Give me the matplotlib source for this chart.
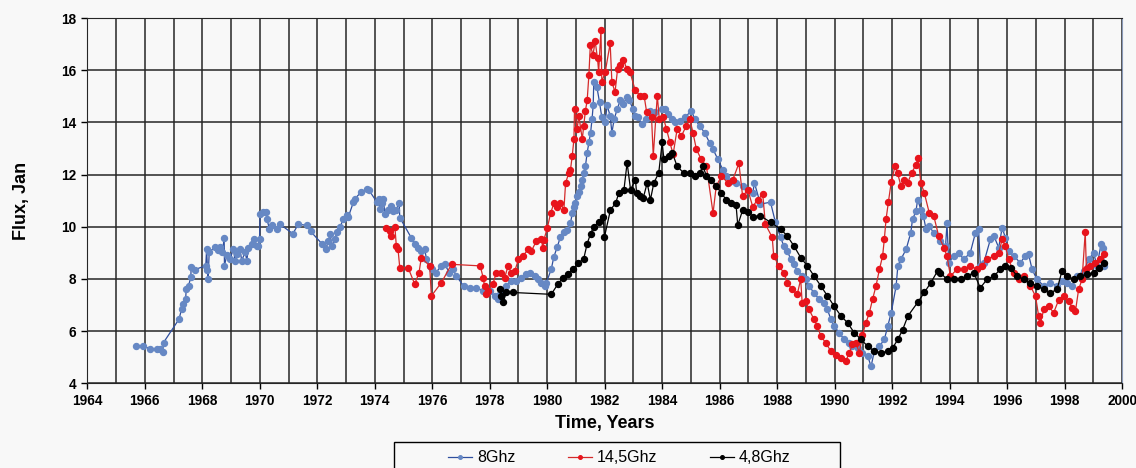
import matplotlib.pyplot as plt
import matplotlib.patches as patches
from matplotlib.ticker import MultipleLocator

plt.rcParams['font.family'] = ['Liberation Sans', 'DejaVu Sans']

# 8 GHz
year_8 = [1965.68, 1965.95, 1966.18, 1966.41, 1966.53, 1966.62, 1966.65, 1967.19, 1967.28, 1967.34,
          1967.42, 1967.44, 1967.52, 1967.60, 1967.61, 1967.75, 1968.12, 1968.15, 1968.18, 1968.20,
          1968.24, 1968.44, 1968.55, 1968.62, 1968.70, 1968.76, 1968.77, 1968.85, 1968.97, 1969.08,
          1969.14, 1969.22, 1969.31, 1969.37, 1969.49, 1969.55, 1969.60, 1969.72, 1969.80, 1969.90,
          1969.95, 1969.99, 1970.01, 1970.12, 1970.20, 1970.25, 1970.33, 1970.41, 1970.59, 1970.70,
          1971.15, 1971.34, 1971.63, 1971.77, 1972.16, 1972.30, 1972.39, 1972.45, 1972.50, 1972.62,
          1972.68, 1972.79, 1972.91, 1973.03, 1973.08, 1973.26, 1973.32, 1973.52, 1973.72, 1973.80,
          1974.07, 1974.13, 1974.18, 1974.25, 1974.30, 1974.35, 1974.45, 1974.55, 1974.62, 1974.75,
          1974.85, 1974.87, 1975.27, 1975.39, 1975.50, 1975.62, 1975.74, 1975.80, 1975.91, 1976.00,
          1976.12, 1976.32, 1976.43, 1976.60, 1976.72, 1976.84, 1977.09, 1977.30, 1977.53, 1977.77,
          1977.88, 1978.00, 1978.17, 1978.29, 1978.35, 1978.58, 1978.75, 1978.92, 1979.10, 1979.27,
          1979.40, 1979.56, 1979.68, 1979.79, 1979.91, 1979.97, 1980.14, 1980.23, 1980.35, 1980.46,
          1980.58, 1980.70, 1980.81, 1980.87, 1980.93, 1980.98, 1981.04, 1981.10, 1981.16, 1981.22,
          1981.27, 1981.33, 1981.39, 1981.45, 1981.51, 1981.56, 1981.60, 1981.62, 1981.73, 1981.82,
          1981.90, 1982.02, 1982.08, 1982.19, 1982.25, 1982.33, 1982.44, 1982.54, 1982.65, 1982.77,
          1982.86, 1982.98, 1983.06, 1983.17, 1983.29, 1983.44, 1983.58, 1983.75, 1984.00, 1984.10,
          1984.20, 1984.33, 1984.44, 1984.61, 1984.79, 1985.02, 1985.13, 1985.30, 1985.48, 1985.65,
          1985.77, 1985.94, 1986.11, 1986.23, 1986.40, 1986.57, 1986.80, 1986.98, 1987.15, 1987.21,
          1987.42, 1987.77, 1987.94, 1988.12, 1988.23, 1988.35, 1988.47, 1988.58, 1988.70, 1988.87,
          1988.99, 1989.11, 1989.28, 1989.46, 1989.63, 1989.75, 1989.87, 1989.98, 1990.16, 1990.33,
          1990.51, 1990.62, 1990.80, 1990.97, 1991.15, 1991.27, 1991.38, 1991.56, 1991.73, 1991.85,
          1991.97, 1992.14, 1992.20, 1992.31, 1992.49, 1992.65, 1992.71, 1992.83, 1992.89, 1993.00,
          1993.09, 1993.18, 1993.28, 1993.45, 1993.68, 1993.86, 1993.91, 1993.97, 1994.14, 1994.32,
          1994.49, 1994.72, 1994.90, 1995.01, 1995.07, 1995.19, 1995.42, 1995.54, 1995.71, 1995.83,
          1995.94, 1996.06, 1996.23, 1996.46, 1996.64, 1996.75, 1996.87, 1997.04, 1997.28, 1997.51,
          1997.74, 1997.91, 1998.09, 1998.26, 1998.43, 1998.67, 1998.84, 1999.01, 1999.13, 1999.27,
          1999.34, 1999.38]
flux_8 = [5.44, 5.44, 5.31, 5.31, 5.33, 5.20, 5.56, 6.46, 6.85, 7.04,
          7.23, 7.62, 7.74, 8.06, 8.44, 8.36, 8.51, 9.15, 8.36, 8.00,
          9.03, 9.22, 9.10, 9.22, 9.03, 9.56, 8.51, 8.90, 8.77, 9.15,
          8.70, 8.95, 9.15, 8.70, 9.03, 8.70, 9.20, 9.35, 9.54, 9.28,
          9.28, 9.54, 10.50, 10.56, 10.56, 10.30, 9.92, 10.05, 9.92, 10.10,
          9.73, 10.10, 10.05, 9.82, 9.35, 9.15, 9.47, 9.73, 9.28, 9.54,
          9.80, 9.99, 10.30, 10.44, 10.38, 10.95, 11.08, 11.33, 11.44, 11.40,
          10.95, 11.08, 10.69, 10.92, 11.08, 10.47, 10.66, 10.79, 10.60, 10.66,
          10.92, 10.35, 9.58, 9.32, 9.20, 9.07, 9.13, 8.75, 8.50, 8.37,
          8.24, 8.50, 8.56, 8.24, 8.37, 8.11, 7.73, 7.67, 7.67, 7.54,
          7.48, 7.54, 7.35, 7.22, 7.41, 7.73, 7.92, 7.92, 8.05, 8.18,
          8.24, 8.11, 7.99, 7.86, 7.73, 7.86, 8.37, 8.84, 9.23, 9.61,
          9.81, 9.87, 10.13, 10.52, 10.77, 10.90, 11.16, 11.35, 11.55, 11.81,
          12.06, 12.32, 12.84, 13.23, 13.61, 14.13, 14.65, 15.55, 15.35, 14.77,
          14.19, 14.00, 14.65, 14.26, 13.60, 14.13, 14.52, 14.84, 14.71, 14.97,
          14.84, 14.52, 14.26, 14.19, 13.94, 14.13, 14.45, 14.39, 14.52, 14.52,
          14.32, 14.13, 14.00, 14.06, 14.19, 14.45, 14.13, 13.87, 13.60, 13.22,
          12.97, 12.58, 12.19, 11.94, 11.74, 11.68, 11.55, 11.42, 11.29, 11.68,
          10.87, 10.94, 10.17, 9.59, 9.27, 9.08, 8.76, 8.56, 8.31, 8.12,
          7.99, 7.73, 7.47, 7.22, 7.09, 6.83, 6.45, 6.19, 5.94, 5.68,
          5.55, 5.42, 5.36, 5.17, 5.04, 4.65, 5.23, 5.42, 5.68, 6.19,
          6.71, 7.73, 8.50, 8.76, 9.14, 9.77, 10.28, 10.60, 11.04, 10.66,
          10.41, 9.90, 10.03, 9.77, 9.45, 9.26, 10.13, 8.62, 8.88, 9.00,
          8.75, 9.00, 9.77, 9.90, 8.50, 8.62, 9.52, 9.65, 9.20, 9.97,
          9.58, 9.07, 8.88, 8.62, 8.88, 8.94, 8.37, 7.98, 7.73, 7.86,
          7.73, 7.92, 7.86, 7.73, 8.11, 8.30, 8.75, 9.00, 8.50, 9.33,
          9.20, 8.50]

# 14,5 GHz
year_145 = [1974.38, 1974.52, 1974.58, 1974.70, 1974.75, 1974.81, 1974.87, 1975.16, 1975.39, 1975.54,
            1975.62, 1975.91, 1975.97, 1976.32, 1976.67, 1977.67, 1977.77, 1977.82, 1977.88, 1977.94,
            1978.11, 1978.23, 1978.40, 1978.52, 1978.64, 1978.75, 1978.87, 1979.00, 1979.16, 1979.33,
            1979.45, 1979.62, 1979.79, 1979.85, 1979.88, 1980.00, 1980.12, 1980.23, 1980.35, 1980.46,
            1980.58, 1980.64, 1980.75, 1980.81, 1980.87, 1980.93, 1980.95, 1981.04, 1981.10, 1981.22,
            1981.27, 1981.33, 1981.39, 1981.45, 1981.50, 1981.59, 1981.67, 1981.75, 1981.79, 1981.87,
            1981.90, 1982.02, 1982.19, 1982.25, 1982.36, 1982.45, 1982.54, 1982.65, 1982.77, 1982.88,
            1983.06, 1983.23, 1983.37, 1983.46, 1983.63, 1983.69, 1983.83, 1983.90, 1984.04, 1984.15,
            1984.27, 1984.38, 1984.52, 1984.67, 1984.84, 1984.96, 1985.07, 1985.19, 1985.36, 1985.54,
            1985.77, 1985.88, 1986.06, 1986.29, 1986.46, 1986.67, 1986.80, 1986.98, 1987.15, 1987.32,
            1987.50, 1987.59, 1987.83, 1987.88, 1988.06, 1988.23, 1988.35, 1988.52, 1988.70, 1988.82,
            1988.87, 1988.99, 1989.11, 1989.28, 1989.40, 1989.52, 1989.69, 1989.87, 1990.04, 1990.22,
            1990.39, 1990.51, 1990.62, 1990.74, 1990.86, 1990.97, 1991.09, 1991.21, 1991.32, 1991.44,
            1991.56, 1991.67, 1991.73, 1991.79, 1991.87, 1991.97, 1992.10, 1992.19, 1992.31, 1992.42,
            1992.54, 1992.68, 1992.83, 1992.91, 1993.00, 1993.12, 1993.29, 1993.45, 1993.62, 1993.80,
            1993.91, 1994.03, 1994.26, 1994.49, 1994.72, 1994.96, 1995.13, 1995.30, 1995.54, 1995.71,
            1995.83, 1995.94, 1996.06, 1996.23, 1996.41, 1996.58, 1996.81, 1996.99, 1997.10, 1997.16,
            1997.28, 1997.45, 1997.62, 1997.80, 1997.97, 1998.14, 1998.26, 1998.38, 1998.49, 1998.61,
            1998.72, 1998.76, 1998.90, 1999.07, 1999.25, 1999.36]
flux_145 = [9.94, 9.83, 9.64, 10.00, 9.26, 9.13, 8.43, 8.43, 7.80, 8.24,
            8.82, 8.50, 7.35, 7.86, 8.56, 8.50, 8.05, 7.73, 7.41, 7.54,
            7.80, 8.24, 8.24, 8.05, 8.50, 8.24, 8.30, 8.75, 8.88, 9.13,
            9.07, 9.45, 9.52, 9.20, 9.48, 9.94, 10.52, 10.90, 10.77, 10.90,
            10.64, 11.68, 12.06, 12.19, 12.71, 13.35, 14.52, 13.74, 14.26, 13.35,
            13.87, 14.45, 14.84, 15.81, 16.97, 16.58, 17.10, 16.45, 15.94, 17.55,
            15.55, 15.94, 17.03, 15.55, 15.16, 16.06, 16.19, 16.39, 16.06, 15.94,
            15.23, 15.03, 15.03, 14.39, 14.19, 12.71, 15.03, 14.13, 14.19, 13.74,
            13.23, 12.77, 13.74, 13.48, 13.87, 14.13, 13.61, 12.97, 12.58, 12.32,
            10.52, 11.55, 11.94, 11.68, 11.81, 12.43, 11.16, 11.42, 10.77, 11.04,
            11.24, 10.10, 9.59, 8.88, 8.50, 8.24, 7.86, 7.60, 7.41, 7.99,
            7.09, 7.15, 6.83, 6.45, 6.19, 5.81, 5.55, 5.23, 5.10, 4.97,
            4.85, 5.17, 5.49, 5.55, 5.17, 5.87, 6.32, 6.71, 7.22, 7.73,
            8.37, 8.88, 9.53, 10.29, 10.94, 11.71, 12.32, 12.06, 11.55, 11.81,
            11.68, 12.06, 12.38, 12.64, 11.68, 11.30, 10.54, 10.41, 9.65, 9.20,
            8.88, 8.11, 8.37, 8.37, 8.50, 8.37, 8.50, 8.75, 8.88, 9.00,
            9.52, 9.26, 8.75, 8.24, 7.98, 8.11, 7.73, 7.34, 6.57, 6.32,
            6.83, 6.96, 6.70, 7.21, 7.34, 7.15, 6.90, 6.77, 7.60, 7.98,
            9.80, 8.37, 8.50, 8.62, 8.75, 8.94]

# 4,8 GHz
year_48 = [1978.35, 1978.40, 1978.46, 1978.58, 1978.81, 1980.14, 1980.37, 1980.55, 1980.72, 1980.90,
           1981.07, 1981.27, 1981.39, 1981.51, 1981.62, 1981.80, 1981.95, 1981.99, 1982.20, 1982.38,
           1982.49, 1982.67, 1982.78, 1982.90, 1983.07, 1983.11, 1983.24, 1983.34, 1983.48, 1983.59,
           1983.71, 1983.88, 1984.00, 1984.06, 1984.23, 1984.35, 1984.52, 1984.75, 1984.96, 1985.13,
           1985.30, 1985.42, 1985.54, 1985.71, 1985.88, 1986.06, 1986.23, 1986.40, 1986.57, 1986.63,
           1986.80, 1986.98, 1987.15, 1987.42, 1987.77, 1988.12, 1988.35, 1988.58, 1988.82, 1989.05,
           1989.28, 1989.52, 1989.75, 1989.98, 1990.22, 1990.45, 1990.68, 1990.92, 1991.15, 1991.38,
           1991.62, 1991.85, 1992.02, 1992.20, 1992.37, 1992.55, 1992.89, 1993.12, 1993.35, 1993.58,
           1993.68, 1993.91, 1994.14, 1994.38, 1994.61, 1994.84, 1995.07, 1995.30, 1995.54, 1995.77,
           1995.94, 1996.12, 1996.35, 1996.58, 1996.81, 1997.04, 1997.28, 1997.51, 1997.74, 1997.91,
           1998.09, 1998.32, 1998.55, 1998.78, 1999.01, 1999.19, 1999.36]
flux_48 = [7.60, 7.35, 7.10, 7.48, 7.48, 7.41, 7.80, 8.05, 8.18, 8.37,
           8.60, 8.77, 9.35, 9.74, 10.00, 10.19, 10.39, 9.60, 10.65, 10.90,
           11.29, 11.42, 12.45, 11.42, 11.81, 11.29, 11.16, 11.10, 11.68, 11.03,
           11.68, 12.06, 13.23, 12.58, 12.71, 12.84, 12.32, 12.06, 12.06, 11.94,
           12.06, 12.32, 11.94, 11.81, 11.55, 11.29, 11.03, 10.90, 10.84, 10.06,
           10.64, 10.58, 10.39, 10.42, 10.17, 9.91, 9.65, 9.27, 8.82, 8.50,
           8.12, 7.73, 7.35, 6.96, 6.58, 6.32, 5.94, 5.68, 5.42, 5.23,
           5.17, 5.23, 5.36, 5.68, 6.06, 6.58, 7.10, 7.48, 7.86, 8.30,
           8.24, 7.98, 7.98, 7.98, 8.11, 8.24, 7.66, 7.98, 8.11, 8.37,
           8.50, 8.43, 8.11, 7.98, 7.86, 7.73, 7.60, 7.47, 7.60, 8.30,
           8.11, 7.98, 8.11, 8.17, 8.24, 8.43, 8.62]

bg = '#f8f8f8'
fig = plt.figure(figsize=(11.36, 4.68), dpi=100, facecolor=bg)
ax = fig.add_axes([0.0769, 0.181, 0.9108, 0.7805])
ax.set_facecolor(bg)

ax.plot(year_8, flux_8, '-o', color='#2f4f9f', lw=0.9, ms=4.3,
        mfc='#6688c4', mec='#6688c4', label='8Ghz', zorder=3)
ax.plot(year_145, flux_145, '-o', color='#d42a2a', lw=0.9, ms=4.3,
        mfc='#e8141c', mec='#e8141c', label='14,5Ghz', zorder=4)
ax.plot(year_48, flux_48, '-o', color='black', lw=0.9, ms=4.3,
        mfc='black', mec='black', label='4,8Ghz', zorder=5)

ax.set_xlim(1964, 2000)
ax.set_ylim(4, 18)
ax.xaxis.set_major_locator(MultipleLocator(2))
ax.xaxis.set_minor_locator(MultipleLocator(1))
ax.yaxis.set_major_locator(MultipleLocator(2))
ax.grid(True, which='both', axis='x', color='#262626', lw=1.1)
ax.grid(True, which='major', axis='y', color='#262626', lw=1.1)
ax.tick_params(axis='both', which='major', length=4, width=1, labelsize=9.8, pad=4)
ax.tick_params(axis='x', which='minor', length=0)
for lab in ax.get_xticklabels() + ax.get_yticklabels():
    lab.set_fontweight('bold')
for s in ['left', 'bottom', 'top']:
    ax.spines[s].set_color('#262626')
ax.spines['right'].set_color('#8a9ab8')
ax.spines['right'].set_linewidth(0.8)

ax.set_xlabel('Time, Years', fontsize=13, fontweight='bold', labelpad=5)
ax.set_ylabel('Flux, Jan', fontsize=13, fontweight='bold', labelpad=22)

fig.legend(loc='center', bbox_to_anchor=(619 / 1136, 1 - 458 / 468), ncol=3,
           frameon=False, fontsize=11.5, handlelength=1.5, handletextpad=0.3,
           columnspacing=3.3, borderpad=0, markerscale=0.6)
fig.patches.append(patches.Rectangle((394 / 1136, -0.05), (840 - 394) / 1136, 0.05 + 26 / 468,
                                     transform=fig.transFigure, fill=False,
                                     edgecolor='black', lw=1))

fig.savefig('out.png', dpi=100, facecolor=bg)
